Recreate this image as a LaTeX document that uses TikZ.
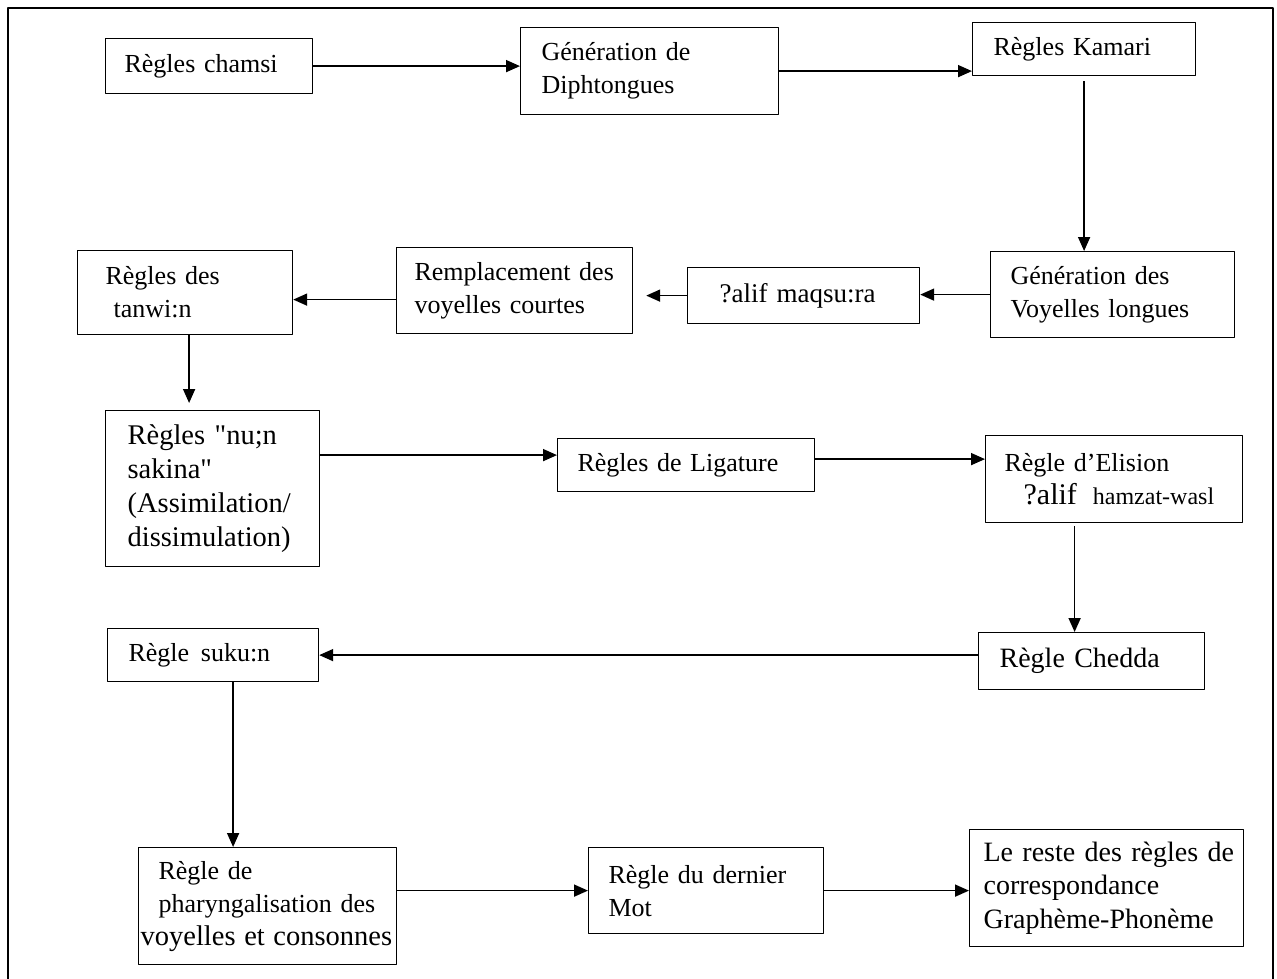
\documentclass[tikz,border=0pt]{standalone}
\usepackage{fontspec}
\setmainfont{Liberation Serif}
\usetikzlibrary{arrows.meta}

\begin{document}
\begin{tikzpicture}[x=1pt,y=-1pt,line join=round,
	etape/.style={draw,line width=1.2pt,anchor=north west,align=left,inner ysep=0pt,font=\fontsize{26}{33}\selectfont},
	fleche/.style={line width=1.7pt,-{Triangle[length=14pt,width=12pt]}}]
	\useasboundingbox (0,0) rectangle (1277,978);
	\draw[line width=2.5pt] (8,8) rectangle (1273,990);
	% ligne du haut
	\node[etape,minimum width=207pt,minimum height=55pt,inner xsep=19pt,text width=169pt] (chamsi) at (105,38) {Règles chamsi};
	\node[etape,minimum width=258pt,minimum height=87pt,inner xsep=21pt,text width=216pt] (diph) at (520,27) {Génération de\\Diphtongues};
	\node[etape,minimum width=223pt,minimum height=53pt,inner xsep=21pt,text width=181pt] (kamari) at (972,22) {Règles Kamari};
	% deuxieme ligne
	\node[etape,minimum width=244pt,minimum height=86pt,inner xsep=20pt,text width=204pt] (voylong) at (990,251) {Génération des\\Voyelles longues};
	\node[etape,minimum width=232pt,minimum height=56pt,inner xsep=32pt,text width=168pt,font=\fontsize{27}{33}\selectfont] (alif) at (687,267) {?alif maqsu:ra};
	\node[etape,minimum width=236pt,minimum height=86pt,inner xsep=18pt,text width=200pt] (rempl) at (396,247) {\mbox{Remplacement des}\\voyelles courtes};
	\node[etape,minimum width=215pt,minimum height=84pt,inner xsep=28pt,text width=159pt] (tanwi) at (77,250) {Règles des\\\hspace*{8pt}tanwi:n};
	% troisieme ligne
	\node[etape,minimum width=214pt,minimum height=156pt,inner xsep=22pt,text width=170pt,font=\fontsize{28.5}{33.7}\selectfont] (nun) at (105,410) {Règles \textquotedbl nu;n\\sakina\textquotedbl\\(Assimilation/\\dissimulation)};
	\node[etape,minimum width=257pt,minimum height=53pt,inner xsep=20pt,text width=217pt] (lig) at (557,438) {Règles de Ligature};
	\node[etape,minimum width=257pt,minimum height=87pt,inner xsep=19pt,text width=219pt] (elision) at (985,435) {Règle d’Elision\\\mbox{\hspace*{19pt}{\fontsize{30}{33}\selectfont ?alif}\hspace{16pt}{\fontsize{24}{33}\selectfont hamzat-wasl}}};
	% quatrieme ligne
	\node[etape,minimum width=226pt,minimum height=57pt,inner xsep=21pt,text width=184pt,font=\fontsize{28}{33}\selectfont] (chedda) at (978,632) {Règle Chedda};
	\node[etape,minimum width=211pt,minimum height=53pt,inner xsep=21pt,text width=169pt] (suku) at (107,628) {Règle \hspace{3pt}suku:n};
	% ligne du bas
	\node[etape,minimum width=258pt,minimum height=117pt,inner xsep=2pt,text width=254pt] (pharyng) at (138,847) {\hspace*{18pt}Règle de\\\hspace*{18pt}pharyngalisation des\\\mbox{\fontsize{28.5}{33}\selectfont voyelles et consonnes}};
	\node[etape,minimum width=235pt,minimum height=86pt,inner xsep=20pt,text width=195pt] (dernier) at (588,847) {Règle du dernier\\Mot};
	\node[etape,minimum width=274pt,minimum height=117pt,inner xsep=14pt,text width=246pt,font=\fontsize{28}{33.5}\selectfont] (reste) at (969,829) {\mbox{Le reste des règles de}\\correspondance\\Graphème-Phonème};
	% fleches
	\draw[fleche] (chamsi.east) -- (chamsi.east -| diph.west);
	\draw[fleche] (diph.east) -- (diph.east -| kamari.west);
	\draw[fleche] ([yshift=-5pt]kamari.south) -- (kamari.south |- voylong.north);
	\draw[fleche] (voylong.west) -- (voylong.west -| alif.east);
	\draw[fleche,shorten >=13pt] (alif.west) -- (alif.west -| rempl.east);
	\draw[fleche] ([yshift=-9pt]rempl.west) -- ([yshift=-9pt]rempl.west -| tanwi.east);
	\draw[fleche,shorten >=7pt] ([xshift=4pt]tanwi.south) -- ([xshift=4pt]tanwi.south |- nun.north);
	\draw[fleche] ([yshift=10pt]lig.west -| nun.east) -- ([yshift=10pt]lig.west);
	\draw[fleche] ([yshift=6pt]lig.east) -- ([yshift=6pt]lig.east -| elision.west);
	\draw[fleche,shorten <=3pt] ([xshift=-17pt]chedda.north |- elision.south) -- ([xshift=-17pt]chedda.north);
	\draw[fleche] (chedda.west |- suku.east) -- (suku.east);
	\draw[fleche] ([xshift=20pt]suku.south) -- ([xshift=20pt]suku.south |- pharyng.north);
	\draw[fleche] (dernier.west -| pharyng.east) -- (dernier.west);
	\draw[fleche] (dernier.east) -- (dernier.east -| reste.west);
\end{tikzpicture}
\end{document}
